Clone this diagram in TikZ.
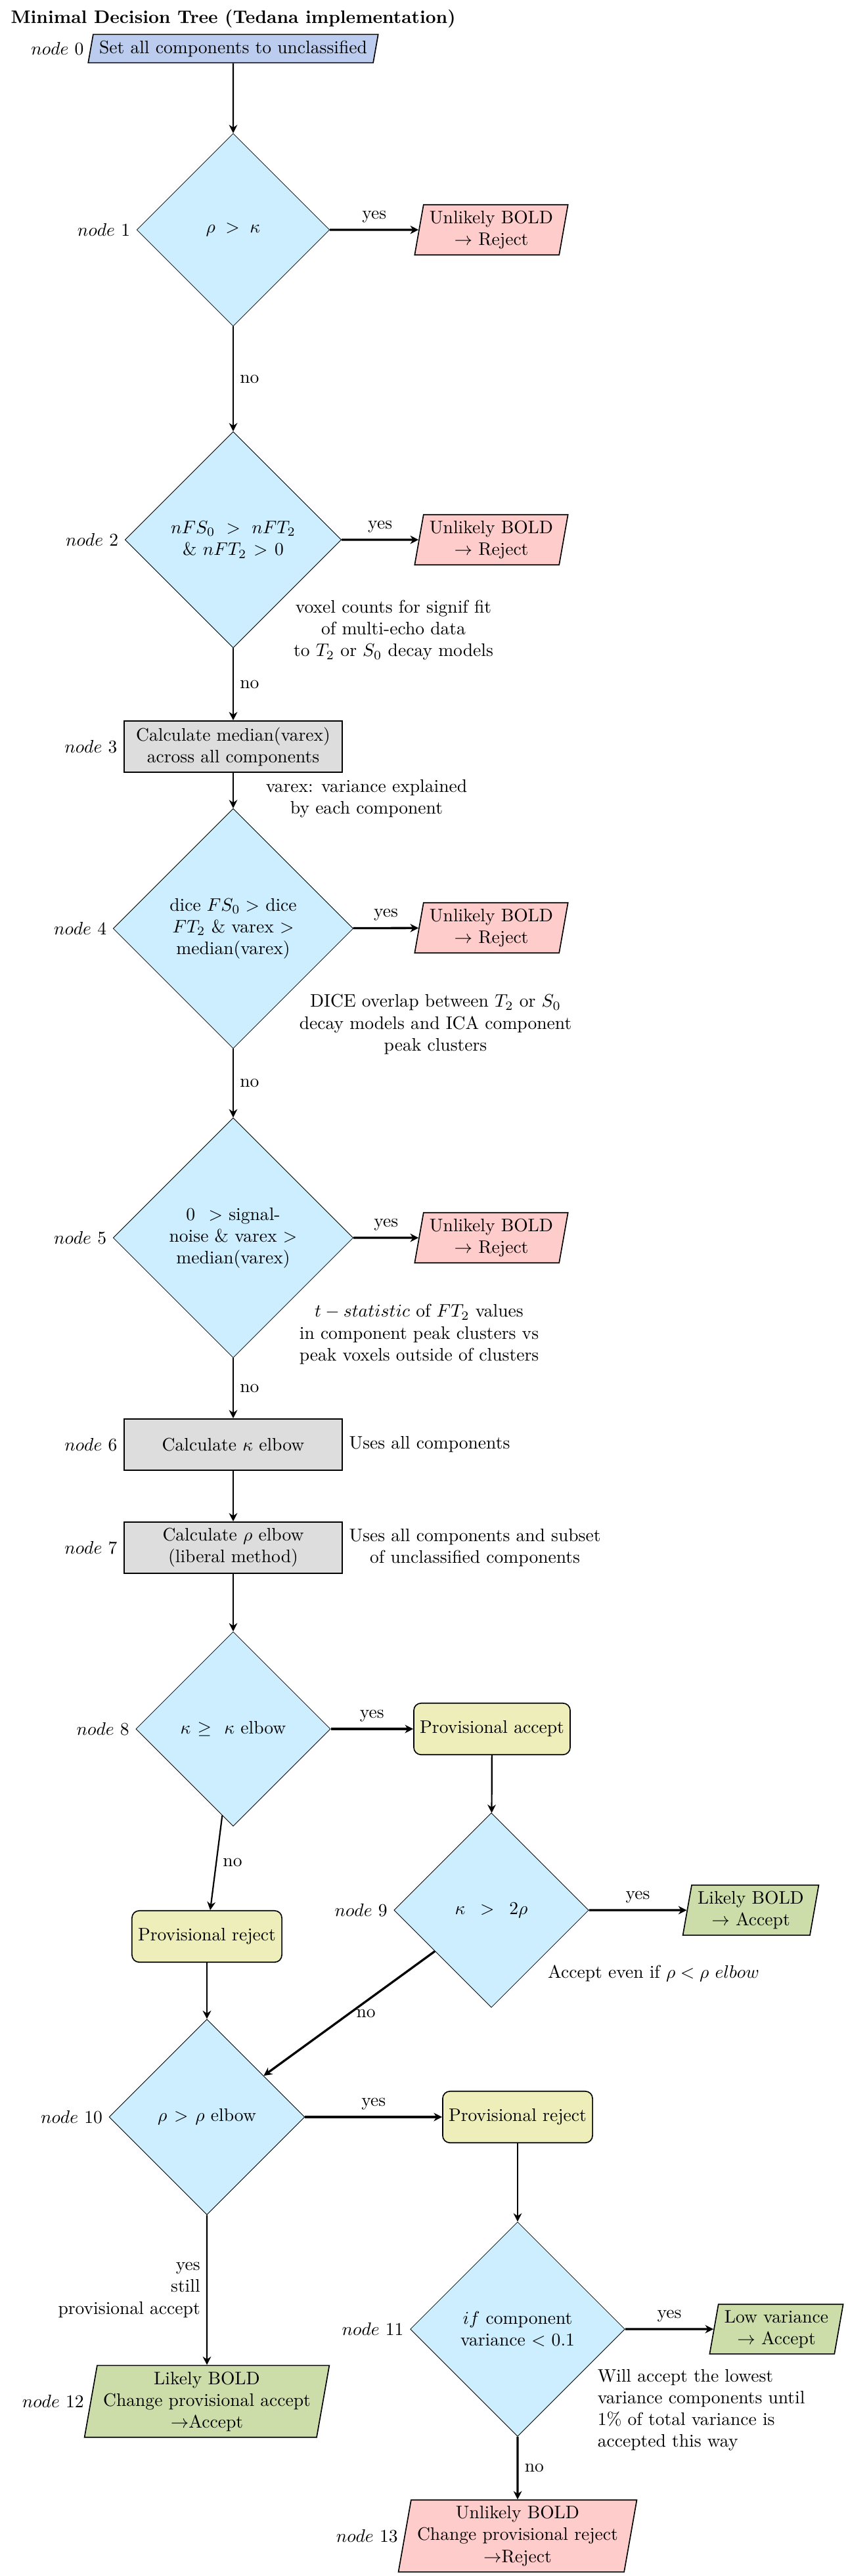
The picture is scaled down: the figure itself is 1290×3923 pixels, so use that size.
\documentclass[tikz,border=0pt]{standalone}
\usetikzlibrary{shapes.geometric,arrows.meta}
\definecolor{paleblue}{HTML}{BBCCEE}
\definecolor{palecyan}{HTML}{CCEEFF}
\definecolor{palered}{HTML}{FFCCCC}
\definecolor{palegreen}{HTML}{CCDDAA}
\definecolor{paleyellow}{HTML}{EEEEBB}
\definecolor{palegrey}{HTML}{DDDDDD}
\begin{document}
\begin{tikzpicture}[x=0.3627pt,y=-0.3627pt,
  decision/.style={diamond, aspect=1, draw, line width=0.3pt, fill=palecyan, text width=2.5cm, align=center, inner sep=7pt},
  calcbox/.style={rectangle, draw, semithick, fill=palegrey, text width=4cm, align=center, minimum height=1cm},
  provbox/.style={rectangle, rounded corners=4pt, draw, semithick, fill=paleyellow, minimum height=1cm},
  para/.style={trapezium, trapezium left angle=80, trapezium right angle=100, draw, semithick, align=center},
  rejbox/.style={para, fill=palered},
  accbox/.style={para, fill=palegreen},
  startbox/.style={para, fill=paleblue},
  flow/.style={-{Stealth[length=4.6pt,width=4.6pt]}, thick},
  yesflow/.style={-{Stealth[length=4.6pt,width=4.6pt]}, very thick},
  note/.style={align=center},
  nlab/.style={label={left:{$node\ #1$}}}
]
\useasboundingbox (0,0) rectangle (1290,3923);
\node[anchor=base west, inner sep=0pt, font=\bfseries] (title) at (16,36) {Minimal Decision Tree (Tedana implementation)};

\node[startbox, nlab=0] (n0) at (355,74) {Set all components to unclassified};
\node[decision, nlab=1] (d1) at (355,350) {$\rho > \kappa$};
\node[rejbox] (r1) at (748,350) {Unlikely BOLD\\$\rightarrow$ Reject};
\node[decision, nlab=2] (d2) at (355,822) {$nFS_0\ >\ nFT_2$\\\& $nFT_2>0$};
\node[rejbox] (r2) at (748,822) {Unlikely BOLD\\$\rightarrow$ Reject};
\node[note] (a2) at (599,960) {voxel counts for signif fit\\of multi-echo data\\to $T_2$ or $S_0$ decay models};
\node[calcbox, nlab=3] (n3) at (355,1137) {Calculate median(varex)\\across all components};
\node[note] (a3) at (558,1216) {varex: variance explained\\by each component};
\node[decision, nlab=4] (d4) at (355,1414) {dice $FS_0 >$ dice\\$FT_2$ \& varex $>$\\median(varex)};
\node[rejbox] (r4) at (748,1413) {Unlikely BOLD\\$\rightarrow$ Reject};
\node[note] (a4) at (663,1560) {DICE overlap between $T_2$ or $S_0$\\decay models and ICA component\\peak clusters};
\node[decision, nlab=5] (d5) at (355,1885) {$0\ >$ signal-\\noise \& varex $>$\\median(varex)};
\node[rejbox] (r5) at (748,1885) {Unlikely BOLD\\$\rightarrow$ Reject};
\node[note] (a5) at (638,2032) {$t-statistic$ of $FT_2$ values\\in component peak clusters vs\\peak voxels outside of clusters};
\node[calcbox, nlab=6] (n6) at (355,2200) {Calculate $\kappa$ elbow};
\node[anchor=west] (a6) at (n6.east) {Uses all components};
\node[calcbox, nlab=7] (n7) at (355,2357) {Calculate $\rho$ elbow\\(liberal method)};
\node[anchor=west, note] (a7) at (n7.east) {Uses all components and subset\\of unclassified components};
\node[decision, nlab=8] (d8) at (355,2633) {$\kappa \geq\ \kappa$ elbow};
\node[provbox] (pa) at (749,2633) {Provisional accept};
\node[provbox] (prej1) at (315,2949) {Provisional reject};
\node[decision, nlab=9] (d9) at (748,2909) {$\kappa\ >\ 2\rho$};
\node[accbox] (g9) at (1143,2909) {Likely BOLD\\$\rightarrow$ Accept};
\node[note] (a9) at (995,3005) {Accept even if $\rho < \rho\ elbow$};
\node[decision, nlab=10] (d10) at (315,3224) {$\rho > \rho$ elbow};
\node[provbox] (prej2) at (788,3224) {Provisional reject};
\node[decision, nlab=11] (d11) at (788,3547) {$if$ component\\variance $< 0.1$};
\node[accbox] (g11) at (1182,3547) {Low variance\\$\rightarrow$ Accept};
\node[anchor=west, align=left] (a11) at (900,3670) {Will accept the lowest\\variance components until\\1\% of total variance is\\accepted this way};
\node[accbox, nlab=12] (n12) at (315,3657) {Likely BOLD\\Change provisional accept\\$\rightarrow$Accept};
\node[rejbox, nlab=13] (n13) at (788,3862) {Unlikely BOLD\\Change provisional reject\\$\rightarrow$Reject};

\draw[flow] (n0) -- (d1);
\draw[yesflow] (d1) -- node[above]{yes} (r1);
\draw[flow] (d1) -- node[right]{no} (d2);
\draw[yesflow] (d2) -- node[above]{yes} (r2);
\draw[flow] (d2) -- node[right]{no} (n3);
\draw[flow] (n3) -- (d4);
\draw[yesflow] (d4) -- node[above]{yes} (r4);
\draw[flow] (d4) -- node[right]{no} (d5);
\draw[yesflow] (d5) -- node[above]{yes} (r5);
\draw[flow] (d5) -- node[right]{no} (n6);
\draw[flow] (n6) -- (n7);
\draw[flow] (n7) -- (d8);
\draw[yesflow] (d8) -- node[above]{yes} (pa);
\draw[flow] (d8) -- node[right]{no} (prej1);
\draw[flow] (pa) -- (d9);
\draw[yesflow] (d9) -- node[above]{yes} (g9);
\draw[yesflow] (d9) -- node[right]{no} (d10);
\draw[flow] (prej1) -- (d10);
\draw[yesflow] (d10) -- node[above]{yes} (prej2);
\draw[flow] (d10) -- node[left, align=right]{yes\\still\\provisional accept} (n12);
\draw[flow] (prej2) -- (d11);
\draw[yesflow] (d11) -- node[above]{yes} (g11);
\draw[yesflow] (d11) -- node[right]{no} (n13);
\end{tikzpicture}
\end{document}
